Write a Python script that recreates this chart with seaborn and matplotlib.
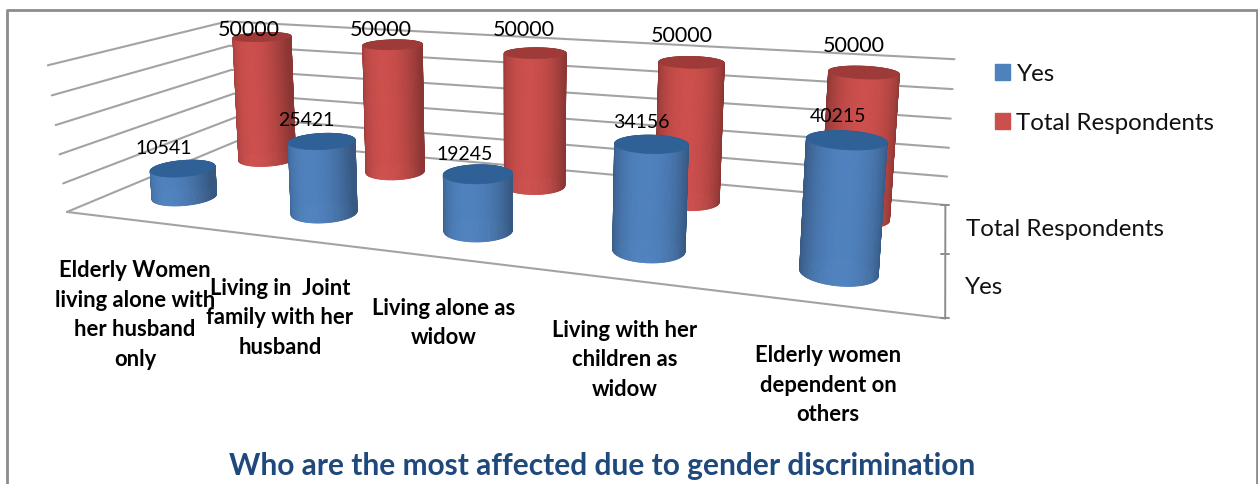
#!/usr/bin/env python3
# plot.py - 3D style cylinder chart drawn through a small camera projection

import numpy as np
import pandas as pd
import matplotlib
matplotlib.use('Agg')
import matplotlib.pyplot as plt
from matplotlib.collections import PolyCollection
from matplotlib.patches import Patch
import seaborn as sns

# Data =========================================================================

categories = [
    'Elderly Women\nliving alone with\nher husband\nonly',
    'Living in  Joint\nfamily with her\nhusband',
    'Living alone as\nwidow',
    'Living with her\nchildren as\nwidow',
    'Elderly women\ndependent on\nothers',
]
series_names = ['Yes', 'Total Respondents']
yes_values = [10541, 25421, 19245, 34156, 40215]
total_values = [50000, 50000, 50000, 50000, 50000]
gridline_values = [0, 10000, 20000, 30000, 40000, 50000]
title = 'Who are the most affected due to gender discrimination'

# Layout (pixels of the 1258x484 canvas) =======================================

W, H = 1258, 484
Z_MAX = 50000
DEPTH = {'Yes': 0.27, 'Total Respondents': 0.74}
RX, RY = 0.039, 0.097

# box corners (x, depth, height) and where they land on the canvas
BOX_ANCHORS = [
    ((0, 0, 0), (65, 211)), ((1, 0, 0), (945, 320)),
    ((1, 1, 0), (945, 203)), ((0, 1, 0), (240, 142)),
    ((0, 0, 1), (50, 65)), ((0, 1, 1), (225, 21)), ((1, 1, 1), (955, 60)),
]
# the cylinders follow a slightly different camera than the walls
BAR_ANCHORS = [
    ((.1, .74, 1), (262, 38)), ((.3, .74, 1), (393, 44)), ((.5, .74, 1), (535, 52)),
    ((.7, .74, 1), (691, 62)), ((.9, .74, 1), (863, 71)),
    ((.1, .74, 0), (267, 158)), ((.3, .74, 0), (396, 172)), ((.5, .74, 0), (535, 186)),
    ((.7, .74, 0), (687, 202)), ((.9, .74, 0), (855, 219)),
    ((.1, .27, 0), (184, 194)), ((.3, .27, 0), (324, 211)), ((.5, .27, 0), (478, 229)),
    ((.7, .27, 0), (649, 250)), ((.9, .27, 0), (838, 272)),
    ((.1, .27, .211), (183, 171)), ((.3, .27, .508), (322, 143)), ((.5, .27, .385), (478, 176)),
    ((.7, .27, .683), (652, 144)), ((.9, .27, .804), (847, 140)),
]
YES_LABEL_XY = [(164, 149), (306, 121), (465, 155), (641, 123), (838, 117)]
TOTAL_LABEL_XY = [(249, 30), (381, 30), (524, 30), (682, 36), (854, 46)]
CATEGORY_XY = [(135, 315), (280, 318), (444, 323), (625, 360), (828, 385)]

BLUE, RED = sns.color_palette(['#4F81BD', '#CB4F4C'])
BLUE_TOP, RED_TOP = '#2F6197', '#9E3B39'
GRID = '#a3a3a3'
FRAME = '#8c8c8c'
FONT = 'Lato'


# Functions ====================================================================

def fit_camera(anchors):
    rows = []
    for (x, y, z), (u, v) in anchors:
        rows.append([x, y, z, 1, 0, 0, 0, 0, -u * x, -u * y, -u * z, -u])
        rows.append([0, 0, 0, 0, x, y, z, 1, -v * x, -v * y, -v * z, -v])
    return np.linalg.svd(np.array(rows, dtype=float))[2][-1].reshape(3, 4)


def project(cam, x, y, z):
    pts = np.column_stack([x, y, z, np.ones_like(x)])
    out = pts @ cam.T
    return out[:, 0] / out[:, 2], out[:, 1] / out[:, 2]


def shade(color, theta):
    # lit from the front, a little left of centre
    k = 0.68 + 0.33 * np.clip(-np.sin(theta - 0.12), 0, 1) ** 1.4
    return tuple(min(1, c * k) for c in color)


def draw_cylinder(ax, cam, x0, y0, value, color, top_color, zorder):
    theta = np.linspace(0, 2 * np.pi, 121)
    x = x0 + RX * np.cos(theta)
    y = y0 + RY * np.sin(theta)
    z_top = value / Z_MAX
    bu, bv = project(cam, x, y, np.zeros_like(x))
    tu, tv = project(cam, x, y, np.full_like(x, z_top))
    mids = (theta[:-1] + theta[1:]) / 2
    order = np.argsort(-np.sin(mids))
    quads = [
        [(bu[i], bv[i]), (bu[i + 1], bv[i + 1]), (tu[i + 1], tv[i + 1]), (tu[i], tv[i])]
        for i in order
    ]
    colors = [shade(color, mids[i]) for i in order]
    ax.add_collection(PolyCollection(
        quads, facecolors=colors, edgecolors=colors, linewidths=0.6, zorder=zorder
    ))
    ax.fill(tu, tv, color=top_color, lw=0.5, zorder=zorder + 0.1)


def wire_frame(cam):
    rows = []
    for n, g in enumerate(gridline_values):
        z = g / Z_MAX
        ends = [(0, 0, z), (0, 1, z), (1, 1, z)]
        x, y, zz = map(np.array, zip(*ends))
        u, v = project(cam, x, y, zz)
        rows += [{'line': n, 'u': a, 'v': b} for a, b in zip(u, v)]
    x, y, zz = np.array([0., 1.]), np.array([0., 0.]), np.array([0., 0.])
    u, v = project(cam, x, y, zz)
    rows += [{'line': 99, 'u': a, 'v': b} for a, b in zip(u, v)]
    return pd.DataFrame(rows)


def main():
    sns.set_theme(style='white')
    plt.rcParams['font.family'] = [FONT, 'DejaVu Sans']
    fig = plt.figure(figsize=(W / 100, H / 100), dpi=100)
    ax = fig.add_axes([0, 0, 1, 1])
    cam = fit_camera(BOX_ANCHORS)
    bar_cam = fit_camera(BAR_ANCHORS)

    sns.lineplot(
        data=wire_frame(cam), x='u', y='v', units='line', estimator=None,
        sort=False, color=GRID, linewidth=1.5, ax=ax, zorder=1
    )

    # series axis along the right floor edge
    t = np.array([0., 0.5, 1.])
    au, av = project(cam, np.ones(3), t, np.zeros(3))
    ax.plot(au, av, color=FRAME, lw=1.4, zorder=1)
    for a, b in zip(au, av):
        ax.plot([a - 4, a + 4], [b, b], color=FRAME, lw=1.4, zorder=1)

    # total series sits behind, yes series in front
    for i, value in enumerate(total_values):
        draw_cylinder(ax, bar_cam, (i + 0.5) / 5, DEPTH['Total Respondents'], value, RED, RED_TOP, 3)
    for i, value in enumerate(yes_values):
        draw_cylinder(ax, bar_cam, (i + 0.5) / 5, DEPTH['Yes'], value, BLUE, BLUE_TOP, 4)

    for value, (u, v) in zip(yes_values, YES_LABEL_XY):
        ax.text(u, v, str(value), ha='center', va='center', fontsize=14, color='black', zorder=6)
    for value, (u, v) in zip(total_values, TOTAL_LABEL_XY):
        ax.text(u, v, str(value), ha='center', va='center', fontsize=15.5, color='black', zorder=6)

    for label, (u, v) in zip(categories, CATEGORY_XY):
        ax.text(u, v, label, ha='center', va='center', fontsize=15.8, fontweight='bold',
                color='black', linespacing=1.5, zorder=6)

    ax.text(966, 229, series_names[1], ha='left', va='center', fontsize=17.4, color='#111111')
    ax.text(965, 287, series_names[0], ha='left', va='center', fontsize=17.4, color='#111111')

    ax.legend(
        handles=[Patch(color=BLUE, label=series_names[0]), Patch(color=RED, label=series_names[1])],
        loc='upper left', bbox_to_anchor=(973, 42), bbox_transform=ax.transData,
        frameon=False, fontsize=17.4, handlelength=0.65, handleheight=0.65,
        handletextpad=0.25, labelspacing=1.15, labelcolor='#111111'
    )

    ax.text(602, 466, title, ha='center', va='center', fontsize=21.5, fontweight='bold', color='#1F497D')

    # outer frame, open at the bottom
    ax.plot([7, 7, 1257, 1257], [H, 10, 10, H], color=FRAME, lw=2, zorder=7)

    ax.set_xlim(0, W)
    ax.set_ylim(H, 0)
    ax.axis('off')
    fig.savefig('out.png', dpi=100)


# Execute ======================================================================

if __name__ == '__main__':
    main()
